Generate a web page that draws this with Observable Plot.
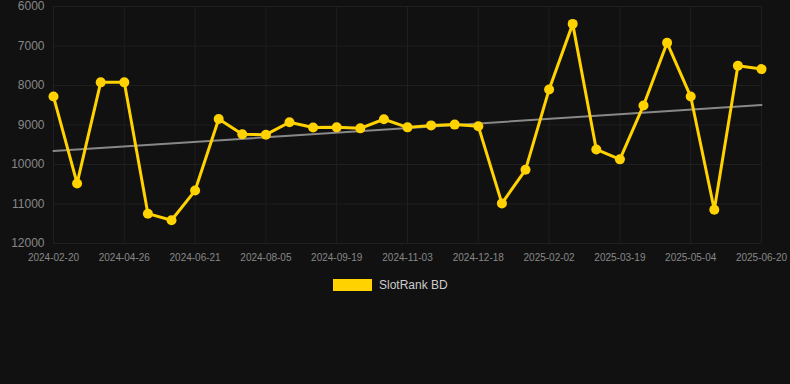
<!DOCTYPE html>
<html>
<head>
<meta charset="utf-8">
<script src="https://cdn.jsdelivr.net/npm/d3@7"></script>
<script src="https://cdn.jsdelivr.net/npm/@observablehq/plot@0.6"></script>
<style>
  html, body { margin: 0; padding: 0; background: #111111; width: 790px; height: 384px; overflow: hidden; }
  #wrap { position: relative; width: 790px; height: 384px; font-family: "Liberation Sans", Arial, sans-serif; }
  #legend { position: absolute; left: 333px; top: 278px; display: flex; align-items: center; font-size: 12px; color: #cccccc; }
  #legend .sw { width: 39px; height: 12px; background: #FFD200; margin-right: 7px; }
</style>
</head>
<body>
<div id="wrap">
  <div id="chart"></div>
  <div id="legend"><span class="sw"></span><span>SlotRank BD</span></div>
</div>
<script>
const dates = [
  "2024-02-20","2024-03-13","2024-04-04","2024-04-26","2024-05-15","2024-06-03",
  "2024-06-21","2024-07-06","2024-07-21","2024-08-05","2024-08-20","2024-09-04",
  "2024-09-19","2024-10-04","2024-10-19","2024-11-03","2024-11-18","2024-12-03",
  "2024-12-18","2025-01-02","2025-01-17","2025-02-02","2025-02-17","2025-03-04",
  "2025-03-19","2025-04-03","2025-04-18","2025-05-04","2025-05-20","2025-06-05",
  "2025-06-20"
];
const ranks = [
  8280, 10480, 7920, 7920, 11245, 11410,
  10660, 8850, 9235, 9245, 8930, 9065,
  9060, 9085, 8855, 9060, 9010, 8990,
  9030, 10985, 10135, 8100, 6440, 9620,
  9870, 8505, 6920, 8280, 11145, 7500,
  7585
];
const yTicks = [6000, 7000, 8000, 9000, 10000, 11000, 12000];
const seriesName = "SlotRank BD";

const data = dates.map((d, i) => ({ i, date: d, rank: ranks[i] }));
const xTicks = d3.range(0, dates.length, 3);

const chart = Plot.plot({
  width: 790,
  height: 270,
  marginLeft: 53,
  marginRight: 29,
  marginTop: 6,
  marginBottom: 27,
  style: { background: "#111111", color: "#888888", fontFamily: "'Liberation Sans', Arial, sans-serif" },
  x: { type: "linear", domain: [0, dates.length - 1], label: null },
  y: { domain: [6000, 12000], reverse: true, label: null },
  marks: [
    Plot.gridY(yTicks, { stroke: "#1f1f1f", strokeOpacity: 1 }),
    Plot.gridX(xTicks, { stroke: "#1f1f1f", strokeOpacity: 1 }),
    Plot.axisY(yTicks, { tickSize: 0, tickPadding: 9, fontSize: 12, fill: "#888888", label: null, tickFormat: d => String(d) }),
    Plot.axisX(xTicks, { tickSize: 0, tickPadding: 10, fontSize: 10, fill: "#888888", label: null, tickFormat: i => dates[i] }),
    Plot.linearRegressionY(data, { x: "i", y: "rank", stroke: "#888888", strokeWidth: 2, ci: 0 }),
    Plot.line(data, { x: "i", y: "rank", stroke: "#FFD200", strokeWidth: 3 }),
    Plot.dot(data, { x: "i", y: "rank", fill: "#FFD200", r: 5 })
  ]
});
document.getElementById("chart").appendChild(chart);
</script>
</body>
</html>
